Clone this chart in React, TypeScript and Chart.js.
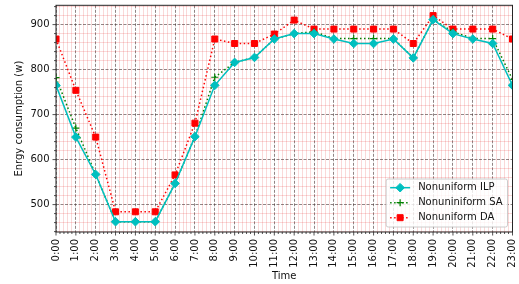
import React, { useEffect, useRef } from 'react';
import { Chart, registerables } from 'chart.js';

Chart.register(...registerables);

const hours = ['0:00', '1:00', '2:00', '3:00', '4:00', '5:00', '6:00', '7:00', '8:00', '9:00', '10:00', '11:00',
  '12:00', '13:00', '14:00', '15:00', '16:00', '17:00', '18:00', '19:00', '20:00', '21:00', '22:00', '23:00'];

const seriesNames = ['Nonuniform ILP', 'Nonuniniform SA', 'Nonuniform DA'];

const ilp = [765, 650, 567, 462, 462, 462, 547, 651, 765, 816, 827, 868, 880, 880, 868, 858, 858, 868, 826, 911, 880, 868, 858, 765];
const sa = [782, 670, 567, 462, 462, 462, 547, 651, 783, 816, 827, 868, 880, 884, 869, 869, 869, 869, 826, 911, 884, 869, 869, 778];
const da = [868, 754, 650, 484, 484, 484, 566, 681, 868, 858, 858, 879, 910, 890, 890, 890, 890, 890, 858, 920, 890, 890, 890, 868];

const yMin = 439.1;
const yMax = 942.9;
const yMajorStep = 100;
const yMinorStep = 20;
const xMajorStep = 1;
const xMinorDivs = 5;

const CYAN = '#00bfbf';
const GREEN = '#008000';
const RED = '#ff0000';
const FONT = '"DejaVu Sans", sans-serif';

const isMult = (v: number, step: number) => Math.abs(v / step - Math.round(v / step)) < 1e-6;

function drawMarker(ctx: CanvasRenderingContext2D, kind: string, x: number, y: number, color: string) {
  ctx.save();
  ctx.setLineDash([]);
  ctx.fillStyle = color;
  ctx.strokeStyle = color;
  ctx.lineWidth = 1;
  if (kind === 'diamond') {
    const r = 4.3;
    ctx.beginPath();
    ctx.moveTo(x, y - r); ctx.lineTo(x + r, y); ctx.lineTo(x, y + r); ctx.lineTo(x - r, y); ctx.closePath();
    ctx.fill(); ctx.stroke();
  } else if (kind === 'square') {
    const h = 3;
    ctx.beginPath();
    ctx.rect(x - h, y - h, 2 * h, 2 * h);
    ctx.fill(); ctx.stroke();
  } else {
    const r = 3.5;
    ctx.lineWidth = 1.2;
    ctx.beginPath();
    ctx.moveTo(x - r, y); ctx.lineTo(x + r, y); ctx.moveTo(x, y - r); ctx.lineTo(x, y + r);
    ctx.stroke();
  }
  ctx.restore();
}

const legendStyles = [
  { color: CYAN, dash: [] as number[], marker: 'diamond' },
  { color: GREEN, dash: [1.5, 2.5], marker: 'cross' },
  { color: RED, dash: [1.5, 2.5], marker: 'square' },
];

const decorPlugin = {
  id: 'decor',
  afterDraw(chart: any) {
    const { ctx, chartArea: a, scales } = chart;
    const xs = scales.x;
    const ys = scales.y;
    ctx.save();
    ctx.strokeStyle = '#262626';
    ctx.lineWidth = 0.8;
    for (const t of xs.ticks) {
      const px = xs.getPixelForValue(t.value);
      const len = isMult(t.value, xMajorStep) ? 3.5 : 2;
      ctx.beginPath(); ctx.moveTo(px, a.bottom); ctx.lineTo(px, a.bottom + len); ctx.stroke();
    }
    for (const t of ys.ticks) {
      const py = ys.getPixelForValue(t.value);
      const len = isMult(t.value, yMajorStep) ? 3.5 : 2;
      ctx.beginPath(); ctx.moveTo(a.left, py); ctx.lineTo(a.left - len, py); ctx.stroke();
    }
    ctx.strokeStyle = '#262626';
    ctx.lineWidth = 1;
    ctx.strokeRect(a.left, a.top, a.right - a.left, a.bottom - a.top);

    ctx.font = '10px ' + FONT;
    const labels: string[] = chart.data.datasets.map((d: any) => d.label);
    const maxW = Math.max(...labels.map((l) => ctx.measureText(l).width));
    const right = a.right - 5;
    const bottom = a.bottom - 5;
    const boxW = 4 + 20 + 8 + maxW + 5;
    const boxH = 48;
    const left = right - boxW;
    const top = bottom - boxH;
    ctx.beginPath();
    if ((ctx as any).roundRect) (ctx as any).roundRect(left, top, boxW, boxH, 2);
    else ctx.rect(left, top, boxW, boxH);
    ctx.fillStyle = 'rgba(255,255,255,0.8)';
    ctx.fill();
    ctx.strokeStyle = '#cccccc';
    ctx.lineWidth = 1;
    ctx.stroke();
    labels.forEach((label, i) => {
      const st = legendStyles[i];
      const cy = bottom - 9.3 - 15 * (labels.length - 1 - i);
      const hx0 = left + 4;
      const hx1 = left + 24;
      ctx.save();
      ctx.strokeStyle = st.color;
      ctx.lineWidth = 1.5;
      ctx.setLineDash(st.dash);
      ctx.beginPath(); ctx.moveTo(hx0, cy); ctx.lineTo(hx1, cy); ctx.stroke();
      ctx.restore();
      drawMarker(ctx, st.marker, (hx0 + hx1) / 2, cy, st.color);
      ctx.fillStyle = '#111';
      ctx.textAlign = 'left';
      ctx.textBaseline = 'middle';
      ctx.fillText(label, left + 32, cy);
    });
    ctx.restore();
  },
};

export default function App() {
  const ref = useRef<HTMLCanvasElement>(null);
  useEffect(() => {
    if (!ref.current) return;
    const toPts = (arr: number[]) => arr.map((v, i) => ({ x: i, y: v }));
    const chart = new Chart(ref.current, {
      type: 'line',
      data: {
        datasets: [
          {
            label: seriesNames[0], data: toPts(ilp), borderColor: CYAN, backgroundColor: CYAN, borderWidth: 1.5,
            pointStyle: 'rectRot', pointRadius: 4.3, pointBorderWidth: 1, pointBackgroundColor: CYAN, pointBorderColor: CYAN,
            tension: 0, clip: 0,
          },
          {
            label: seriesNames[1], data: toPts(sa), borderColor: GREEN, backgroundColor: GREEN, borderWidth: 1.5,
            borderDash: [1.5, 2.5], pointStyle: 'cross', pointRadius: 3.5, pointBorderWidth: 1.2, pointBorderColor: GREEN,
            tension: 0, clip: 0,
          },
          {
            label: seriesNames[2], data: toPts(da), borderColor: RED, backgroundColor: RED, borderWidth: 1.5,
            borderDash: [1.5, 2.5], pointStyle: 'rect', pointRadius: 4.24, pointBorderWidth: 1, pointBackgroundColor: RED, pointBorderColor: RED,
            tension: 0, clip: 0,
          },
        ] as any,
      },
      options: {
        animation: false,
        responsive: false,
        events: [],
        layout: { padding: { top: 5, right: 6.5, left: 0, bottom: 0 } },
        plugins: { legend: { display: false }, tooltip: { enabled: false } },
        scales: {
          x: {
            type: 'linear',
            min: 0,
            max: hours.length - 1,
            afterBuildTicks: (scale: any) => {
              const n = (hours.length - 1) * xMinorDivs;
              const t = [];
              for (let i = 0; i <= n; i++) t.push({ value: i / xMinorDivs });
              scale.ticks = t;
            },
            afterFit: (scale: any) => { scale.height = 52; scale.paddingLeft = 0; scale.paddingRight = 0; },
            ticks: {
              autoSkip: false,
              maxRotation: 90,
              minRotation: 90,
              padding: 7,
              color: '#111',
              font: { family: FONT, size: 10 },
              callback: (v: any) => (isMult(Number(v), xMajorStep) ? hours[Math.round(Number(v))] : ''),
            },
            grid: {
              drawTicks: false,
              color: (c: any) => (c.tick && isMult(c.tick.value, xMajorStep) ? 'rgba(70,50,50,0.75)' : 'rgba(220,0,0,0.15)'),
              lineWidth: (c: any) => (c.tick && isMult(c.tick.value, xMajorStep) ? 0.8 : 1),
            },
            border: {
              display: false,
              dash: (c: any) => (c.tick && isMult(c.tick.value, xMajorStep) ? [3, 1.5] : []),
            },
            title: { display: true, text: 'Time', color: '#111', font: { family: FONT, size: 10 }, padding: { top: 0, bottom: 1.5 } },
          },
          y: {
            type: 'linear',
            min: yMin,
            max: yMax,
            afterBuildTicks: (scale: any) => {
              const t = [];
              const start = Math.ceil(yMin / yMinorStep) * yMinorStep;
              for (let v = start; v <= yMax; v += yMinorStep) t.push({ value: v });
              scale.ticks = t;
            },
            afterFit: (scale: any) => { scale.width = 56; scale.paddingTop = 0; scale.paddingBottom = 0; },
            ticks: {
              autoSkip: false,
              padding: 6.5,
              color: '#111',
              font: { family: FONT, size: 10 },
              callback: (v: any) => (isMult(Number(v), yMajorStep) ? String(Math.round(Number(v))) : ''),
            },
            grid: {
              drawTicks: false,
              color: (c: any) => (c.tick && isMult(c.tick.value, yMajorStep) ? 'rgba(70,50,50,0.75)' : 'rgba(220,0,0,0.15)'),
              lineWidth: (c: any) => (c.tick && isMult(c.tick.value, yMajorStep) ? 0.8 : 1),
            },
            border: {
              display: false,
              dash: (c: any) => (c.tick && isMult(c.tick.value, yMajorStep) ? [3, 1.5] : []),
            },
            title: { display: true, text: 'Enrgy consumption (w)', color: '#111', font: { family: FONT, size: 10 }, padding: { top: 13, bottom: 0 } },
          },
        },
      } as any,
      plugins: [decorPlugin],
    });
    return () => chart.destroy();
  }, []);
  return (
    <div style={{ position: 'absolute', left: 0, top: 0, width: 519, height: 284, background: '#fff' }}>
      <canvas ref={ref} width={519} height={284} style={{ display: 'block' }} />
    </div>
  );
}
